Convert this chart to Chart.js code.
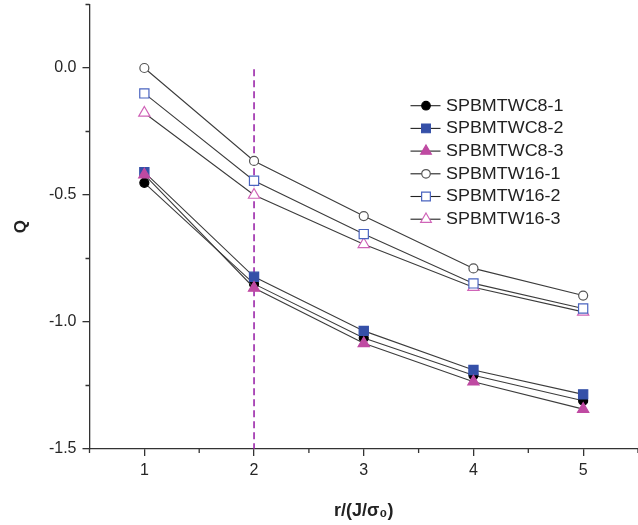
<!DOCTYPE html>
<html><head><meta charset="utf-8">
<script src="https://cdn.jsdelivr.net/npm/chart.js@4/dist/chart.umd.min.js"></script>
<style>html,body{margin:0;padding:0;background:#fff}#wrap{width:638px;height:525px}</style>
</head><body><div id="wrap"><canvas id="c" width="638" height="525"></canvas></div>
<script>
// ---- data ----
const rValues = [1, 2, 3, 4, 5];
const seriesNames = ['SPBMTWC8-1', 'SPBMTWC8-2', 'SPBMTWC8-3', 'SPBMTW16-1', 'SPBMTW16-2', 'SPBMTW16-3'];
const wc8_1 = [-0.452, -0.85, -1.063, -1.21, -1.31];
const wc8_2 = [-0.41, -0.822, -1.035, -1.189, -1.285];
const wc8_3 = [-0.42, -0.866, -1.084, -1.235, -1.343];
const w16_1 = [0.0, -0.366, -0.583, -0.789, -0.896];
const w16_2 = [-0.10, -0.444, -0.654, -0.848, -0.947];
const w16_3 = [-0.177, -0.50, -0.694, -0.863, -0.96];
const refLineX = [2, 2];
const refLineY = [-0.005, -1.5];
const xTicks = [1, 2, 3, 4, 5];
const xMinorTicks = [0.5, 1.5, 2.5, 3.5, 4.5, 5.5];
const yTicks = [-1.5, -1.0, -0.5, 0.0];
const yMinorTicks = [-1.25, -0.75, -0.25, 0.25];

// ---- styles ----
const FONT = "'Liberation Sans', Arial, Helvetica, sans-serif";
const styles = [
  {shape: 'circle',   r: 4.5, fill: '#000000', stroke: '#000000'},
  {shape: 'rect',     r: 6.5, fill: '#3550a8', stroke: '#3550a8'},
  {shape: 'triangle', r: 6.5, fill: '#bf4aa2', stroke: '#bf4aa2'},
  {shape: 'circle',   r: 4.5, fill: '#ffffff', stroke: '#555555'},
  {shape: 'rect',     r: 6.5, fill: '#ffffff', stroke: '#4a64c0'},
  {shape: 'triangle', r: 6.5, fill: '#ffffff', stroke: '#d064b8'}
];
const seriesData = [wc8_1, wc8_2, wc8_3, w16_1, w16_2, w16_3];
const drawOrder = [2, 1, 0, 3, 4, 5];

const datasets = seriesData.map((vals, i) => ({
  label: seriesNames[i],
  data: rValues.map((x, j) => ({x: x, y: vals[j]})),
  borderColor: '#3c3c3c',
  borderWidth: 1.1,
  pointStyle: styles[i].shape,
  pointRadius: styles[i].r,
  pointBackgroundColor: styles[i].fill,
  pointBorderColor: styles[i].stroke,
  pointBorderWidth: 1.2,
  order: drawOrder[i],
  fill: false,
  tension: 0
}));
datasets.push({
  label: 'ref',
  data: refLineX.map((x, j) => ({x: x, y: refLineY[j]})),
  borderColor: '#9418a4',
  borderWidth: 1.5,
  borderDash: [7, 4],
  pointRadius: 0,
  order: 10,
  fill: false
});

function marker(ctx, s, x, y, scale) {
  const r = s.r * scale;
  ctx.beginPath();
  if (s.shape === 'circle') {
    ctx.arc(x, y, r, 0, Math.PI * 2);
  } else if (s.shape === 'rect') {
    const h = r * Math.SQRT1_2;
    ctx.rect(x - h, y - h, 2 * h, 2 * h);
  } else {
    ctx.moveTo(x, y - r);
    ctx.lineTo(x + r * Math.sin(2 * Math.PI / 3), y + r / 2);
    ctx.lineTo(x - r * Math.sin(2 * Math.PI / 3), y + r / 2);
    ctx.closePath();
  }
  ctx.fillStyle = s.fill; ctx.fill();
  ctx.lineWidth = 1.2; ctx.strokeStyle = s.stroke; ctx.stroke();
}

const extras = {
  id: 'extras',
  afterDraw(chart) {
    const {ctx, scales: {x, y}, chartArea} = chart;
    ctx.save();
    // minor ticks
    ctx.strokeStyle = '#333'; ctx.lineWidth = 1.3;
    ctx.beginPath();
    xMinorTicks.forEach(v => { const p = x.getPixelForValue(v); ctx.moveTo(p, chartArea.bottom); ctx.lineTo(p, chartArea.bottom + 4); });
    yMinorTicks.forEach(v => { const p = y.getPixelForValue(v); ctx.moveTo(chartArea.left, p); ctx.lineTo(chartArea.left - 4, p); });
    ctx.stroke();
    // legend
    const rowY0 = 105.7, rowStep = 22.7;
    seriesNames.forEach((name, i) => {
      const yy = rowY0 + i * rowStep;
      ctx.strokeStyle = '#222'; ctx.lineWidth = 1.1;
      ctx.beginPath(); ctx.moveTo(410.5, yy); ctx.lineTo(440.5, yy); ctx.stroke();
      marker(ctx, styles[i], 426, yy, 0.95);
      ctx.save();
      ctx.translate(446, yy + 0.5);
      ctx.scale(1.12, 1);
      ctx.fillStyle = '#222'; ctx.font = '16px ' + FONT;
      ctx.textAlign = 'left'; ctx.textBaseline = 'middle';
      ctx.fillText(name, 0, 0);
      ctx.restore();
    });
    ctx.restore();
  }
};

function zeroPad(s) { s.paddingLeft = 0; s.paddingRight = 0; s.paddingTop = 0; s.paddingBottom = 0; }

new Chart(document.getElementById('c'), {
  type: 'line',
  data: {datasets},
  options: {
    responsive: false,
    animation: false,
    events: [],
    layout: {autoPadding: false, padding: {left: 0, right: 0, top: 4.5, bottom: 2}},
    plugins: {legend: {display: false}, tooltip: {enabled: false}},
    scales: {
      x: {
        type: 'linear', min: 0.5, max: 5.5,
        afterBuildTicks: s => { s.ticks = xTicks.map(v => ({value: v})); },
        afterFit: s => { s.height = 74; zeroPad(s); },
        border: {color: '#333', width: 1.3},
        grid: {drawOnChartArea: false, drawTicks: true, tickLength: 7, color: '#333', lineWidth: 1.3},
        ticks: {color: '#262626', font: {family: FONT, size: 16}, padding: 5, callback: v => String(v), maxRotation: 0},
        title: {display: true, text: 'r/(J/σ₀)', color: '#222', font: {family: FONT, size: 18, weight: 'bold'}, padding: {top: 0, bottom: 1}}
      },
      y: {
        type: 'linear', min: -1.5, max: 0.25,
        afterBuildTicks: s => { s.ticks = yTicks.map(v => ({value: v})); },
        afterFit: s => { s.width = 89.5; zeroPad(s); },
        border: {color: '#333', width: 1.3},
        grid: {drawOnChartArea: false, drawTicks: true, tickLength: 7, color: '#333', lineWidth: 1.3},
        ticks: {color: '#262626', font: {family: FONT, size: 16}, padding: 6, callback: v => (Math.abs(v) < 1e-9 ? 0 : v).toFixed(1)},
        title: {display: true, text: 'Q', color: '#222', font: {family: FONT, size: 17, weight: 'bold'}, padding: {top: 11, bottom: 0}}
      }
    }
  },
  plugins: [extras]
});
</script>
</body></html>
